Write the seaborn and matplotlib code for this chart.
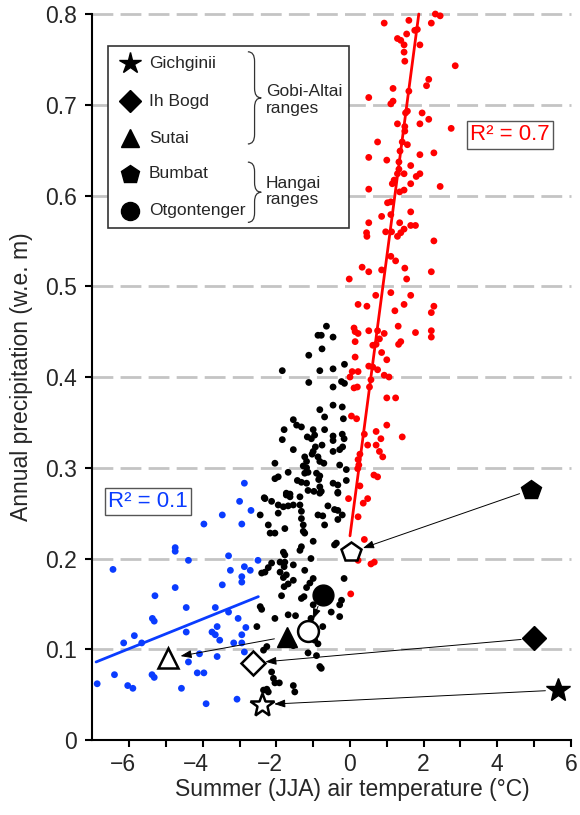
import numpy as np
import pandas as pd
import seaborn as sns
import matplotlib.pyplot as plt
from matplotlib.path import Path
from matplotlib.patches import PathPatch, Rectangle
from matplotlib.transforms import ScaledTranslation

# cold sites (blue), T < -2.5 C
blue_t = [-2.87, -3.00, -3.47, -2.69, -3.97, -2.94, -4.75, -4.75, -4.39, -3.30,
          -6.44, -3.25, -2.87, -2.71, -2.94, -2.94, -3.47, -4.75, -5.30, -4.45,
          -3.66, -3.30, -5.37, -5.32, -3.04, -3.61, -2.83, -4.45, -3.75, -3.66,
          -2.94, -5.86, -6.15, -5.66, -3.54, -3.16, -2.94, -3.61, -4.09, -2.87,
          -4.39, -6.87, -6.40, -6.04, -5.90, -5.38, -5.32, -4.15, -3.97, -4.58,
          -3.91, -3.07, -2.50]
blue_p = [0.283, 0.263, 0.248, 0.253, 0.238, 0.238, 0.212, 0.208, 0.198, 0.203,
          0.188, 0.187, 0.191, 0.187, 0.180, 0.174, 0.171, 0.168, 0.159, 0.146,
          0.146, 0.141, 0.134, 0.131, 0.134, 0.125, 0.124, 0.119, 0.119, 0.116,
          0.116, 0.115, 0.107, 0.107, 0.110, 0.107, 0.107, 0.092, 0.095, 0.097,
          0.086, 0.062, 0.072, 0.060, 0.057, 0.072, 0.069, 0.074, 0.074, 0.057,
          0.040, 0.045, 0.198]

# intermediate sites (black)
black_t = [-0.64, -0.87, -0.78, -0.46, -0.76, -1.12, -0.15, -0.46, -0.82, -1.84,
           -1.12, -0.23, -0.15, -0.46, -0.46, -0.82, -0.21, -0.69, -0.18, -1.54,
           -1.45, -1.32, -1.79, -1.00, -0.69, -1.16, -1.05, -0.96, -0.46, -0.46,
           -0.21, -0.16, -1.84, -0.76, -0.94, -1.54, -1.00, -1.03, -0.28, -0.20,
           -0.46, -1.23, -1.18, -1.27, -0.87, -0.82, -2.04, -0.71, -0.28, -0.10,
           -1.18, -1.14, -1.23, -1.68, -0.91, -0.82, -2.04, -1.95, -1.43, -1.32,
           -1.18, -0.85, -0.82, -0.46, -0.10, -1.73, -1.63, -1.14, -0.98, -0.78,
           -0.33, -2.33, -2.31, -2.13, -1.73, -1.63, -1.36, -0.82, -0.33, -1.95,
           -1.81, -1.68, -1.54, -1.36, -0.60, -0.42, -1.95, -2.44, -1.32, -1.32,
           -0.87, -0.74, -0.21, -2.22, -1.77, -1.27, -0.69, -2.17, -2.04, -1.27,
           -1.23, -1.00, -1.32, -1.36, -1.81, -1.77, -1.06, -0.42, -2.13, -2.22,
           -2.31, -2.40, -1.90, -1.77, -1.79, -1.54, -1.90, -1.73, -1.81, -1.23,
           -1.54, -1.68, -1.79, -1.00, -1.09, -1.18, -0.16, -1.25, -1.32, -1.86,
           -0.23, -0.28, -2.44, -2.40, -1.00, -0.51, -0.28, -2.04, -1.68, -1.48,
           -1.06, -2.53, -0.74, -0.96, -0.87, -2.26, -2.35, -1.54, -1.14, -0.91,
           -0.78, -0.82, -2.13, -2.08, -2.04, -1.54, -1.50, -2.26, -2.22, -2.35,
           -1.92, -0.33, -0.33, -0.37, -0.33]
black_p = [0.456, 0.446, 0.446, 0.444, 0.431, 0.424, 0.414, 0.409, 0.407, 0.407,
           0.394, 0.395, 0.393, 0.389, 0.369, 0.364, 0.367, 0.356, 0.354, 0.353,
           0.347, 0.345, 0.342, 0.342, 0.342, 0.334, 0.332, 0.336, 0.335, 0.330,
           0.337, 0.332, 0.331, 0.325, 0.323, 0.320, 0.318, 0.315, 0.320, 0.323,
           0.318, 0.312, 0.307, 0.302, 0.312, 0.307, 0.305, 0.305, 0.303, 0.298,
           0.300, 0.295, 0.294, 0.295, 0.294, 0.291, 0.288, 0.290, 0.286, 0.284,
           0.283, 0.287, 0.279, 0.283, 0.286, 0.272, 0.271, 0.275, 0.274, 0.274,
           0.273, 0.267, 0.266, 0.263, 0.270, 0.268, 0.268, 0.272, 0.272, 0.259,
           0.257, 0.258, 0.259, 0.259, 0.258, 0.254, 0.250, 0.248, 0.252, 0.244,
           0.248, 0.247, 0.248, 0.237, 0.233, 0.237, 0.237, 0.228, 0.228, 0.230,
           0.228, 0.219, 0.213, 0.209, 0.207, 0.204, 0.200, 0.215, 0.195, 0.190,
           0.185, 0.184, 0.196, 0.196, 0.191, 0.193, 0.185, 0.182, 0.179, 0.187,
           0.176, 0.172, 0.169, 0.178, 0.173, 0.168, 0.178, 0.158, 0.156, 0.159,
           0.154, 0.149, 0.147, 0.144, 0.149, 0.141, 0.136, 0.134, 0.138, 0.137,
           0.134, 0.125, 0.125, 0.110, 0.106, 0.103, 0.099, 0.104, 0.096, 0.093,
           0.079, 0.081, 0.075, 0.068, 0.063, 0.060, 0.053, 0.056, 0.053, 0.055,
           0.063, 0.281, 0.243, 0.217, 0.253]

# warm sites (red), T > 0 C
red_t = [2.32, 2.45, 0.93, 1.60, 2.21, 1.83, 1.76, 1.54, 1.29, 1.38,
         1.47, 1.47, 1.90, 1.49, 2.86, 2.14, 2.08, 1.17, 1.60, 0.51,
         1.17, 1.11, 1.56, 1.51, 1.96, 2.14, 1.29, 1.90, 1.49, 1.49,
         2.75, 0.75, 1.42, 1.56, 2.28, 0.51, 1.36, 1.33, 1.90, 1.00,
         1.65, 1.33, 1.29, 1.47, 1.90, 1.80, 1.20, 1.15, 1.65, 0.51,
         2.45, 1.35, 1.47,
         1.02, 1.11, 1.65, 0.86, 1.11, 0.51, 1.35, 1.65, 1.78, 1.47,
         1.38, 0.45, 0.46, 0.97, 1.13, 1.29, 2.28, 1.11, 1.24, 0.33,
         0.51, 0.86, 1.49, 2.21, -0.02, 1.54, 1.11, 0.70, 1.65, 0.22,
         0.46, 1.47, 2.28, 2.21, 1.22, 1.31, 0.11, 0.14, 0.22, 0.51,
         0.75, 0.93, 1.78, 2.21, 2.21, 0.14, 0.80, 0.71, 0.62, 1.38,
         1.32, 0.14, 0.86, 1.00, 0.51, 0.62, 0.75, 0.06, 0.22, 0.93,
         1.06,
         0.00, 0.57, 0.11, 0.20, 0.53, 1.00, 1.24, 0.04, 0.18, 1.00,
         0.39, 0.71, 1.42, 0.84, 0.48, 0.71, 0.80, 0.89, 0.27, 0.22,
         0.21, 0.24, 0.65, 0.75, 0.27, -0.04, 0.48, 0.36, 0.22, 0.39,
         0.22, 0.66, 0.57, 0.02]
red_p = [0.800, 0.798, 0.790, 0.793, 0.790, 0.783, 0.782, 0.778, 0.773, 0.771,
         0.766, 0.758, 0.766, 0.748, 0.743, 0.728, 0.721, 0.718, 0.715, 0.708,
         0.704, 0.701, 0.693, 0.691, 0.691, 0.684, 0.679, 0.679, 0.676, 0.671,
         0.674, 0.659, 0.659, 0.656, 0.647, 0.642, 0.649, 0.637, 0.645, 0.639,
         0.633, 0.629, 0.624, 0.624, 0.624, 0.621, 0.617, 0.613, 0.613, 0.607,
         0.610, 0.604, 0.606,
         0.592, 0.593, 0.582, 0.577, 0.579, 0.570, 0.570, 0.567, 0.567, 0.563,
         0.559, 0.559, 0.555, 0.560, 0.560, 0.555, 0.550, 0.533, 0.528, 0.521,
         0.516, 0.518, 0.520, 0.516, 0.508, 0.508, 0.493, 0.490, 0.490, 0.480,
         0.478, 0.480, 0.478, 0.471, 0.473, 0.456, 0.454, 0.450, 0.448, 0.451,
         0.451, 0.448, 0.449, 0.451, 0.444, 0.439, 0.442, 0.436, 0.435, 0.439,
         0.436, 0.422, 0.427, 0.419, 0.412, 0.411, 0.408, 0.406, 0.406, 0.402,
         0.400,
         0.400, 0.397, 0.388, 0.389, 0.389, 0.377, 0.377, 0.357, 0.354, 0.347,
         0.337, 0.340, 0.334, 0.332, 0.325, 0.325, 0.318, 0.312, 0.315, 0.309,
         0.299, 0.303, 0.292, 0.290, 0.280, 0.266, 0.266, 0.261, 0.246, 0.221,
         0.198, 0.196, 0.194, 0.161]

# regression lines
blue_fit_t = [-6.90, -2.49]
blue_fit_p = [0.086, 0.158]
red_fit_t = [0.00, 1.87]
red_fit_p = [0.225, 0.800]

# glacier sites: filled = observed, hollow = modelled
sites = ['Gichginii', 'Ih Bogd', 'Sutai', 'Bumbat', 'Otgontenger']
obs_t = [5.65, 4.99, -1.72, 4.93, -0.74]
obs_p = [0.055, 0.112, 0.114, 0.276, 0.160]
mod_t = [-2.40, -2.64, -4.94, 0.03, -1.14]
mod_p = [0.039, 0.085, 0.090, 0.207, 0.120]

yticks = [0, 0.1, 0.2, 0.3, 0.4, 0.5, 0.6, 0.7, 0.8]
ylabels = ['0', '0.1', '0.2', '0.3', '0.4', '0.5', '0.6', '0.7', '0.8']
xticks = [-6, -4, -2, 0, 2, 4, 6]
xlabels = ['\u22126', '\u22124', '\u22122', '0', '2', '4', '6']

# styles
site_marker = ['*', 'D', '^', 'p', 'o']
site_ms = [18, 12.5, 14, 15, 15]
leg_ms = [16, 11, 13.5, 13.5, 13]
BLUE = '#0a3cff'
RED = '#ff0000'
FS = 16.5

sns.set_theme(style='white')
plt.rcParams['font.family'] = ['Liberation Sans', 'DejaVu Sans']

df = pd.DataFrame({
    't': blue_t + black_t + red_t,
    'p': blue_p + black_p + red_p,
    'grp': ['cold'] * len(blue_t) + ['mid'] * len(black_t) + ['warm'] * len(red_t),
})

fig = plt.figure(figsize=(5.8, 8.15), dpi=100)
ax = fig.add_axes([0.1593, 0.0920, 0.8248, 0.8908])

# dashed grid
for yv in yticks[1:]:
    ax.axhline(yv, color='#c4c4c4', lw=2, ls=(0, (7.5, 2.6)), zorder=0, clip_on=False)

sns.scatterplot(data=df, x='t', y='p', hue='grp',
                palette={'cold': BLUE, 'mid': 'black', 'warm': RED},
                s=24, linewidth=0, legend=False, ax=ax, zorder=2, clip_on=False)

ax.plot(blue_fit_t, blue_fit_p, color=BLUE, lw=2, zorder=3)
ax.plot(red_fit_t, red_fit_p, color=RED, lw=2, zorder=3, clip_on=False)

# arrows from filled to hollow markers
for i in range(len(sites)):
    ax.annotate('', xy=(mod_t[i], mod_p[i]), xytext=(obs_t[i], obs_p[i]),
                arrowprops=dict(arrowstyle='-|>,head_length=0.55,head_width=0.2',
                                lw=0.7, color='black', shrinkA=9, shrinkB=9),
                zorder=4)
    ax.plot(obs_t[i], obs_p[i], marker=site_marker[i], ms=site_ms[i], color='black',
            mec='black', ls='none', zorder=5, clip_on=False)
    ax.plot(mod_t[i], mod_p[i], marker=site_marker[i], ms=site_ms[i], mfc='white',
            mec='black', mew=1.8, ls='none', zorder=5)

# R^2 boxes
ax.text(-5.49, 0.263, 'R² = 0.1', color=BLUE, fontsize=16, ha='center', va='center',
        bbox=dict(boxstyle='square,pad=0.15', fc='white', ec='#555555', lw=1), zorder=6)
ax.text(4.35, 0.667, 'R² = 0.7', color=RED, fontsize=16, ha='center', va='center',
        bbox=dict(boxstyle='square,pad=0.15', fc='white', ec='#555555', lw=1), zorder=6)

# legend box
ax.add_patch(Rectangle((0.0326, 0.705), 0.5034, 0.251, transform=ax.transAxes,
                       fc='white', ec='#333333', lw=1.2, zorder=6))
leg_y = [0.9325, 0.880, 0.829, 0.780, 0.729]
for i in range(len(sites)):
    ax.plot(0.0786, leg_y[i], marker=site_marker[i], ms=leg_ms[i], color='black',
            ls='none', transform=ax.transAxes, zorder=7, clip_on=False)
    ax.text(0.118, leg_y[i], sites[i], fontsize=12.5, va='center', ha='left',
            transform=ax.transAxes, zorder=7)


def brace(x, y0, y1, w=0.028, r=0.013):
    xm = x + w / 2
    ym = (y0 + y1) / 2
    verts = [(x, y1), (xm, y1), (xm, y1 - r), (xm, ym + r), (xm, ym), (x + w, ym),
             (xm, ym), (xm, ym - r), (xm, y0 + r), (xm, y0), (x, y0)]
    codes = [Path.MOVETO, Path.CURVE3, Path.CURVE3, Path.LINETO, Path.CURVE3, Path.CURVE3,
             Path.CURVE3, Path.CURVE3, Path.LINETO, Path.CURVE3, Path.CURVE3]
    ax.add_patch(PathPatch(Path(verts, codes), fc='none', ec='#333333', lw=0.9,
                           transform=ax.transAxes, zorder=7))


brace(0.325, 0.821, 0.948)
brace(0.325, 0.713, 0.796)
ax.text(0.363, 0.8815, 'Gobi-Altai\nranges', fontsize=12.5, va='center', ha='left',
        linespacing=1.1, transform=ax.transAxes, zorder=7)
ax.text(0.363, 0.755, 'Hangai\nranges', fontsize=12.5, va='center', ha='left',
        linespacing=1.1, transform=ax.transAxes, zorder=7)

# axes
ax.set_xlim(-7, 6)
ax.set_ylim(0, 0.8)
ax.set_xticks(xticks)
ax.set_xticklabels(xlabels)
ax.set_xticks([-5, -3, -1, 1, 3, 5], minor=True)
ax.set_yticks(yticks)
ax.set_yticklabels(ylabels)
ax.tick_params(axis='both', which='both', direction='out', length=5, width=1.5,
               color='black', labelsize=FS, bottom=True, left=True)
ax.tick_params(axis='x', pad=4)
ax.tick_params(axis='y', pad=6)
sns.despine(ax=ax)
for s in ['left', 'bottom']:
    ax.spines[s].set_linewidth(1.5)
    ax.spines[s].set_color('black')

# shift negative labels so the digit sits under the tick
shift = ScaledTranslation(-0.292 * FS / 72, 0, fig.dpi_scale_trans)
for lab in ax.get_xticklabels():
    if lab.get_text().startswith('\u2212'):
        lab.set_transform(lab.get_transform() + shift)

ax.set_xlabel('Summer (JJA) air temperature (°C)', fontsize=FS)
ax.set_ylabel('Annual precipitation (w.e. m)', fontsize=FS)
ax.xaxis.set_label_coords(0.543, -0.052)
ax.yaxis.set_label_coords(-0.125, 0.5)

fig.savefig('out.png', dpi=100)
